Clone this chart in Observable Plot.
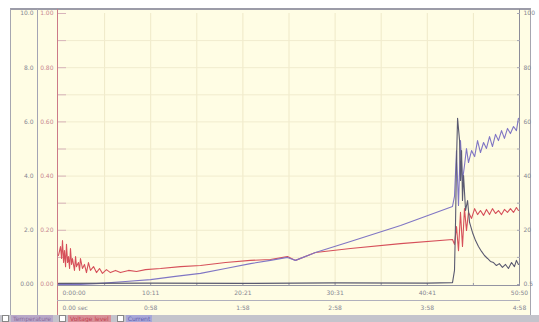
<!DOCTYPE html>
<html><head><meta charset="utf-8">
<script src="https://cdn.jsdelivr.net/npm/d3@7"></script>
<script src="https://cdn.jsdelivr.net/npm/@observablehq/plot@0.6"></script>
<style>
body{margin:0;background:#fff;font-family:"DejaVu Sans",sans-serif;}
#wrap{position:relative;width:539px;height:322px;overflow:hidden;background:#fff;}
.deco{position:absolute;}
#frame{left:10px;top:8px;width:519px;height:306px;background:#fffde4;border:1px solid #a6a6b0;border-top:2px solid #9c9ca8;}
#chart{position:absolute;left:0;top:0;}
#legend{position:absolute;left:0;top:315px;width:539px;height:7px;background:#c4c4cc;font-size:6px;line-height:7px;white-space:nowrap;}
#legend span.box{display:inline-block;width:5px;height:5px;background:#fff;border:1px solid #888;vertical-align:top;margin:0 2px 0 2px;}
#legend span.t{display:inline-block;padding:0 2px;margin-right:4px;}
</style></head><body>
<div id="wrap">
  <div class="deco" id="frame"></div>
  <div class="deco" style="left:37px;top:9px;width:1px;height:306px;background:#a4a4b4;"></div>
  <div class="deco" style="left:57px;top:9px;width:1px;height:306px;background:#cc7a88;"></div>
  <div class="deco" style="left:519px;top:9px;width:1px;height:277px;background:#8c8c98;"></div>
  <div class="deco" style="left:57px;top:285px;width:463px;height:1px;background:#9494a2;"></div>
  <div class="deco" style="left:57px;top:300px;width:463px;height:1px;background:#b0b0bc;"></div>
  <div id="chart"></div>
  <div id="legend"><span class="box"></span><span class="t" style="color:#8a6a9a;background:#b8a8c8;">Temperature</span><span class="box"></span><span class="t" style="color:#c04050;background:#d89098;">Voltage level</span><span class="box"></span><span class="t" style="color:#6060b0;background:#a8a8d8;">Current</span></div>
</div>
<script>
// time in seconds
const redT = [0,1.3,2.0,2.6,3.3,3.9,4.6,5.2,5.9,6.5,7.2,7.8,8.5,9.1,10.4,11.1,11.7,13.0,13.7,14.3,15.6,16.9,18.2,19.5,20.8,22.8,24.7,26.7,28.6,31.2,33.8,37.1,40.3,45.6,50.8,56.6,66.4,79.4,92.4,108.7,124.9,137.9,149.0,154.2,167.2,190.0,222.6,256.4,257.7,259.0,260.3,261.6,262.9,264.2,265.5,266.8,268.8,270.8,272.7,274.6,276.6,278.5,280.5,282.4,284.4,286.3,288.3,290.2,292.2,294.1,296.1,298.0,299.3];
const redV = [10.7,14.0,9.6,16.2,8.1,12.5,6.6,14.8,8.1,10.3,5.9,13.3,7.4,9.6,5.2,10.3,6.6,8.1,5.2,9.6,5.9,7.4,4.4,8.1,5.2,6.6,4.4,5.9,4.1,5.5,4.4,5.2,4.4,5.2,4.8,5.5,5.9,6.6,7.0,8.1,8.9,9.2,10.3,8.9,11.8,13.3,15.1,16.6,14.8,21.4,12.5,26.6,14.0,28.0,19.9,26.6,24.4,28.0,25.8,27.3,25.5,27.7,25.8,28.0,26.2,27.3,25.8,27.7,26.6,28.0,26.6,28.4,27.3];

const blueT = [0,14.3,27.3,43.6,59.9,76.1,92.4,108.7,124.9,137.9,149.0,154.2,167.2,190.0,222.6,256.4,257.7,259.0,260.3,261.6,262.9,264.2,265.5,266.8,268.8,270.8,272.7,274.6,276.6,278.5,280.5,282.4,284.4,286.3,288.3,290.2,292.2,294.1,296.1,298.0,299.3];
const blueV = [0,0,0.4,1.1,1.8,3.0,4.1,5.9,7.7,8.9,10.0,8.9,11.8,15.9,21.8,28.8,32.5,49.4,29.2,53.1,38.4,43.9,50.2,45.0,49.4,47.2,53.1,48.7,52.4,50.2,54.6,50.9,55.4,53.1,56.8,53.9,57.6,55.7,58.3,56.8,61.3];

const darkT = [0,60,120,180,240,256.4,257.7,258.4,259.0,259.7,261.0,261.6,262.3,262.9,263.6,264.9,266.2,267.5,269.4,271.4,273.3,275.3,277.2,279.2,281.1,283.1,285.0,286.9,288.9,290.9,292.8,294.8,296.7,298.0,299.3];
const darkV = [0.4,0.5,0.4,0.6,0.5,0.7,5.2,23.6,45.8,61.3,53.1,38.4,49.4,31.0,40.2,27.3,31.0,22.9,19.2,16.2,14.0,12.2,10.7,9.6,8.5,8.1,7.0,7.7,6.3,7.4,5.9,8.1,6.6,8.9,7.4];

// axes
const xTicks = [0,60,120,180,240,300];
const xRow1 = ["0:00:00","10:11","20:21","30:31","40:41","50:50"];
const xRow2 = ["0.00 sec","0:58","1:58","2:58","3:58","4:58"];
const yTicks = [0,20,40,60,80,100];
const yLeft1 = ["0.00","2.0","4.0","6.0","8.0","10.0"];
const yLeft2 = ["0.00","0.20","0.40","0.60","0.80","1.00"];
const yRight = ["0.5","20","40","60","80","100"];

const mk = (T, V) => T.map((t, i) => ({t, v: V[i]}));
const red = mk(redT, redV), blue = mk(blueT, blueV), dark = mk(darkT, darkV);
const lab = (ticks, labels) => ticks.map((d, i) => ({d, s: labels[i]}));

const fs = 6, tc = "#858592";
const plot = Plot.plot({
  width: 539, height: 314,
  marginLeft: 58, marginRight: 20, marginTop: 13, marginBottom: 30,
  x: {domain: [0, 300]},
  y: {domain: [0, 100]},
  style: {background: "transparent", fontFamily: "DejaVu Sans"},
  marks: [
    Plot.gridX(d3.range(30, 300, 30), {stroke: "#efe9c8", strokeOpacity: 1}),
    Plot.gridY(d3.range(10, 100, 10), {stroke: "#f1ecce", strokeOpacity: 1}),
    Plot.axisY(d3.range(0, 101, 10), {anchor: "left", tickSize: 8, dx: 8, tickFormat: () => "", stroke: "#d8b4bb"}),
    Plot.axisY(d3.range(0, 101, 10), {anchor: "right", tickSize: 3, dx: -3, tickFormat: () => "", stroke: "#a8a8b4"}),
    Plot.axisX(d3.range(0, 301, 30), {anchor: "bottom", tickSize: 3, dy: -1, tickFormat: () => "", stroke: "#9898a6"}),
    Plot.line(red, {x: "t", y: "v", stroke: "#d6505a", strokeWidth: 1.1}),
    Plot.line(blue, {x: "t", y: "v", stroke: "#8076c4", strokeWidth: 1.1}),
    Plot.line(dark, {x: "t", y: "v", stroke: "#5a5a70", strokeWidth: 1.1}),
    Plot.text(lab(yTicks, yLeft1), {y: "d", text: "s", frameAnchor: "left", textAnchor: "end", dx: -25, fontSize: fs, fill: tc}),
    Plot.text(lab(yTicks, yLeft2), {y: "d", text: "s", frameAnchor: "left", textAnchor: "end", dx: -5, fontSize: fs, fill: "#c8868f"}),
    Plot.text(lab(yTicks, yRight), {y: "d", text: "s", frameAnchor: "right", textAnchor: "start", dx: 4, fontSize: fs, fill: tc}),
    Plot.text(lab(xTicks, xRow1).slice(0, 1), {x: "d", text: "s", frameAnchor: "bottom", textAnchor: "start", dx: 4, dy: 10, fontSize: fs, fill: tc}),
    Plot.text(lab(xTicks, xRow1).slice(1), {x: "d", text: "s", frameAnchor: "bottom", dy: 10, fontSize: fs, fill: tc}),
    Plot.text(lab(xTicks, xRow2).slice(0, 1), {x: "d", text: "s", frameAnchor: "bottom", textAnchor: "start", dx: 4, dy: 25, fontSize: fs, fill: tc}),
    Plot.text(lab(xTicks, xRow2).slice(1), {x: "d", text: "s", frameAnchor: "bottom", dy: 25, fontSize: fs, fill: tc})
  ]
});
document.getElementById("chart").appendChild(plot);
</script>
</body></html>
